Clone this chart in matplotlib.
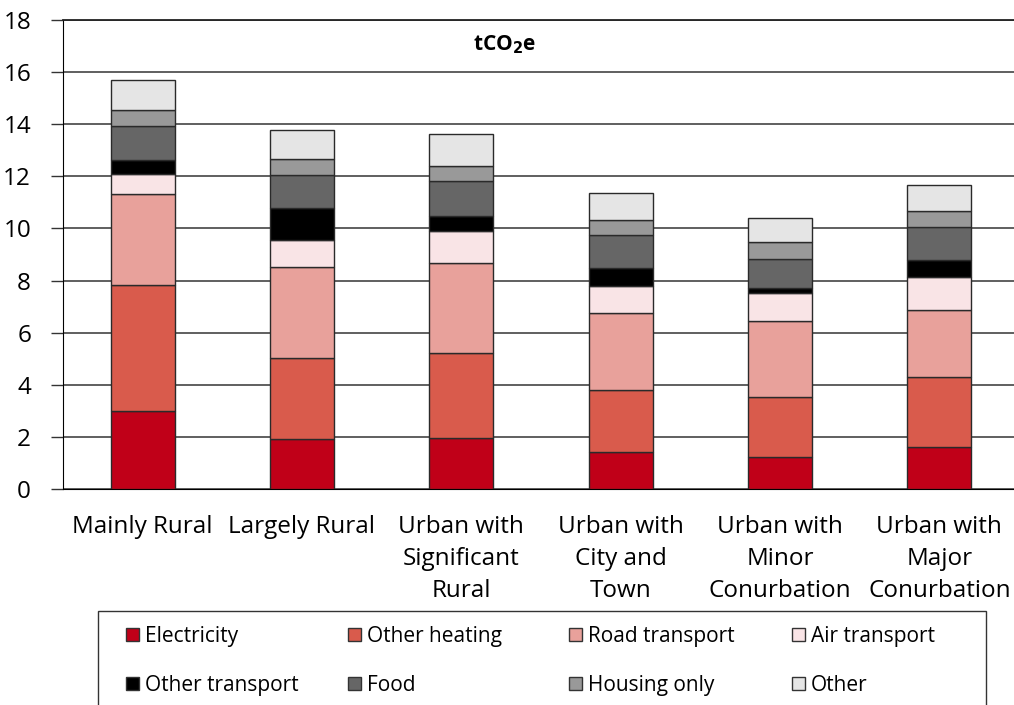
import matplotlib
matplotlib.use("Agg")
import matplotlib.pyplot as plt
from matplotlib.patches import Rectangle, Patch
import numpy as np

plt.rcParams['font.family'] = ['Open Sans', 'DejaVu Sans']

categories = ["Mainly Rural", "Largely Rural", "Urban with\nSignificant\nRural",
              "Urban with\nCity and\nTown", "Urban with\nMinor\nConurbation",
              "Urban with\nMajor\nConurbation"]
series_names = ["Electricity", "Other heating", "Road transport", "Air transport",
                "Other transport", "Food", "Housing only", "Other"]
electricity     = [3.00, 1.92, 1.95, 1.43, 1.22, 1.60]
other_heating   = [4.83, 3.09, 3.26, 2.37, 2.32, 2.71]
road_transport  = [3.49, 3.50, 3.47, 2.94, 2.92, 2.55]
air_transport   = [0.76, 1.04, 1.22, 1.06, 1.07, 1.29]
other_transport = [0.53, 1.22, 0.58, 0.69, 0.17, 0.64]
food            = [1.32, 1.29, 1.35, 1.24, 1.11, 1.28]
housing_only    = [0.62, 0.61, 0.56, 0.59, 0.68, 0.59]
other           = [1.13, 1.09, 1.23, 1.05, 0.90, 1.01]
yticks = [0, 2, 4, 6, 8, 10, 12, 14, 16, 18]

series = [electricity, other_heating, road_transport, air_transport,
          other_transport, food, housing_only, other]
colors = ["#C00018", "#D95B4C", "#E8A19B", "#F9E4E6",
          "#000000", "#666666", "#999999", "#E5E5E5"]

W, H = 1014, 705
fig = plt.figure(figsize=(W / 100, H / 100), dpi=100)
ax = fig.add_axes([63 / W, 1 - 489 / H, (1019 - 63) / W, (489 - 20) / H])

x = np.arange(len(categories))
bottom = np.zeros(len(categories))
for vals, col in zip(series, colors):
    ax.bar(x, vals, 0.4, bottom=bottom, color=col, edgecolor="#2a2a2a",
           linewidth=1.0, zorder=3)
    bottom += np.array(vals)

ax.set_xlim(-0.5, len(categories) - 0.5)
ax.set_ylim(0, 18)
ax.set_yticks(yticks)
ax.set_yticklabels([str(v) for v in yticks])
ax.set_xticks(x)
ax.set_xticklabels(categories, linespacing=1.42)
ax.tick_params(axis='x', length=0, pad=19, labelsize=17.5, colors="#000000")
ax.tick_params(axis='y', length=9, width=1, direction='out', pad=14,
               labelsize=17.5, color="#333333")
ax.yaxis.grid(True, color="#444444", linewidth=1.2, zorder=0)
ax.set_axisbelow(True)
ax.spines["right"].set_visible(False)
ax.spines["left"].set_color("#000000")
ax.spines["bottom"].set_color("#000000")
ax.spines["top"].set_color("#222222")
ax.spines["top"].set_linewidth(1.3)

ax.text((505 - 63) / (1019 - 63), 1 - (45 - 20) / (489 - 20), r"tCO$_\mathbf{2}$e",
        transform=ax.transAxes, ha="center", va="center", fontsize=15,
        fontweight="bold")

# legend frame
fig.patches.append(Rectangle((98 / W, -0.05), (986 - 98) / W, 0.05 + 1 - 611 / H,
                             transform=fig.transFigure, facecolor="none",
                             edgecolor="#333333", linewidth=1.0))

col_x = [126, 348, 569, 792]
columns = [[0, 4], [1, 5], [2, 6], [3, 7]]
for cx, idxs in zip(col_x, columns):
    handles = [Patch(facecolor=colors[i], edgecolor="#333333", linewidth=1.0)
               for i in idxs]
    labels = [series_names[i] for i in idxs]
    fig.legend(handles, labels, loc="upper left",
               bbox_to_anchor=(cx / W, 1 - 626 / H), frameon=False,
               fontsize=15, handlelength=0.62, handleheight=0.62,
               handletextpad=0.28, borderpad=0, borderaxespad=0,
               labelspacing=1.33)

fig.savefig("out.png", dpi=100)
